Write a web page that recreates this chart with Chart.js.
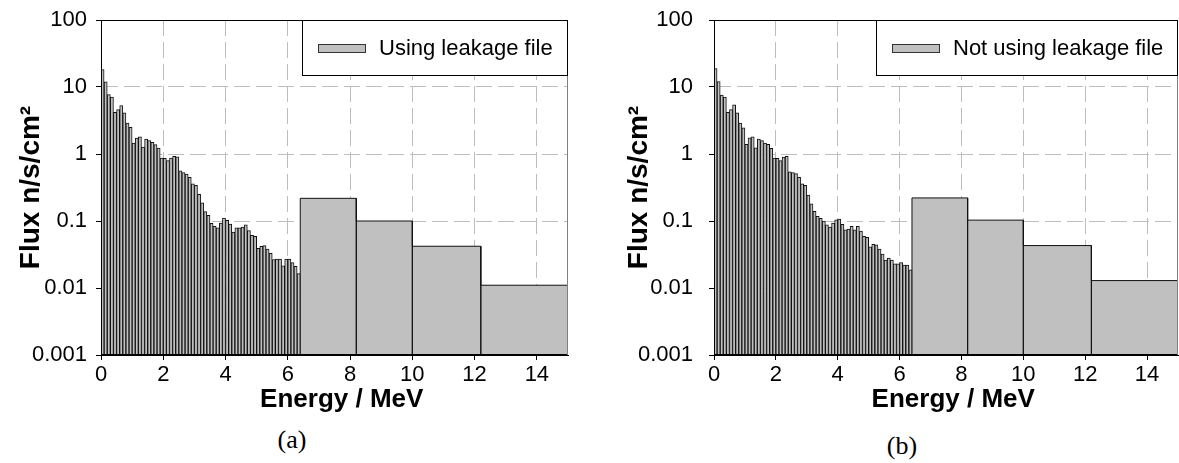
<!DOCTYPE html>
<html>
<head>
<meta charset="utf-8">
<script src="https://cdn.jsdelivr.net/npm/chart.js@4.4.1/dist/chart.umd.min.js"></script>
<style>
  html, body { margin: 0; padding: 0; background: #fff; }
  body { width: 1179px; height: 463px; position: relative; overflow: hidden; }
  .panel { position: absolute; top: 0; height: 425px; }
  #panelA { left: 0; width: 590px; }
  #panelB { left: 613px; width: 566px; }
  .caption {
    position: absolute;
    font-family: 'Liberation Serif', 'Times New Roman', serif;
    font-size: 26px;
    color: #000;
    transform: translate(-50%, -50%);
  }
</style>
</head>
<body>
<div class="panel" id="panelA"><canvas id="chartA"></canvas></div>
<div class="panel" id="panelB"><canvas id="chartB"></canvas></div>
<div class="caption" style="left:292px; top:440px">(a)</div>
<div class="caption" style="left:902px; top:446px">(b)</div>

<script>
// Energy bin edges (MeV): 64 narrow bins, then 4 wide ones
const narrowEdges = [0, 0.1, 0.2, 0.3, 0.4, 0.5, 0.6, 0.7, 0.8, 0.9, 1, 1.1, 1.2, 1.3, 1.4, 1.5, 1.6, 1.7, 1.8, 1.9,
  2, 2.1, 2.2, 2.3, 2.4, 2.5, 2.6, 2.7, 2.8, 2.9, 3, 3.1, 3.2, 3.3, 3.4, 3.5, 3.6, 3.7, 3.8, 3.9,
  4, 4.1, 4.2, 4.3, 4.4, 4.5, 4.6, 4.7, 4.8, 4.9, 5, 5.1, 5.2, 5.3, 5.4, 5.5, 5.6, 5.7, 5.8, 5.9,
  6, 6.1, 6.2, 6.3, 6.4];
const wideEdges = [6.4, 8.2, 10, 12.2, 15];

// (a) Using leakage file
const fluxNarrowA = [18.2, 11.9, 7.7, 7.1, 4.2, 4.6, 5.3, 4.1, 2.9, 2.5,
  1.46, 1.73, 1.80, 1.27, 1.67, 1.58, 1.49, 1.38, 1.23, 0.87,
  0.86, 0.80, 0.87, 0.92, 0.91, 0.56, 0.53, 0.50, 0.45, 0.36,
  0.34, 0.25, 0.186, 0.138, 0.122, 0.092, 0.083, 0.079, 0.093, 0.111,
  0.102, 0.090, 0.0685, 0.079, 0.079, 0.081, 0.088, 0.072, 0.061, 0.059,
  0.039, 0.042, 0.043, 0.038, 0.033, 0.0265, 0.027, 0.027, 0.0215, 0.027,
  0.027, 0.024, 0.021, 0.0164];
const fluxWideA = [0.218, 0.100, 0.042, 0.011];

// (b) Not using leakage file
const fluxNarrowB = [18.8, 12.0, 7.6, 7.1, 4.2, 4.6, 5.4, 4.1, 2.9, 2.45,
  1.39, 1.75, 1.80, 1.24, 1.67, 1.58, 1.46, 1.39, 1.22, 0.87,
  0.86, 0.80, 0.90, 0.92, 0.54, 0.53, 0.51, 0.45, 0.36, 0.34,
  0.244, 0.18, 0.14, 0.117, 0.11, 0.10, 0.088, 0.081, 0.093, 0.104,
  0.107, 0.089, 0.074, 0.076, 0.083, 0.074, 0.083, 0.071, 0.059, 0.057,
  0.041, 0.045, 0.044, 0.038, 0.032, 0.026, 0.028, 0.026, 0.023, 0.023,
  0.024, 0.022, 0.022, 0.0186];
const fluxWideB = [0.221, 0.103, 0.043, 0.0129];

const xTicks = [0, 2, 4, 6, 8, 10, 12, 14];
const yTicks = [0.001, 0.01, 0.1, 1, 10, 100];
const yTickLabels = ['0.001', '0.01', '0.1', '1', '10', '100'];

const BAR_FILL = '#c0c0c0';
const FONT = "'Liberation Sans', Arial, sans-serif";

Chart.defaults.font.family = FONT;
Chart.defaults.color = '#000';

function narrowPoints(values) {
  return values.map((v, i) => ({ x: (narrowEdges[i] + narrowEdges[i + 1]) / 2, y: v }));
}

// wide bins traced as one outline that drops to the axis floor at every edge
function widePoints(values) {
  const floor = yTicks[0];
  const pts = [];
  values.forEach((v, i) => {
    pts.push({ x: wideEdges[i], y: floor }, { x: wideEdges[i], y: v },
             { x: wideEdges[i + 1], y: v }, { x: wideEdges[i + 1], y: floor });
  });
  return pts;
}

// plot frame + Excel style boxed legend in the top right corner
const boxLegend = {
  id: 'boxLegend',
  afterDatasetsDraw(chart) {
    const { ctx, chartArea: a } = chart;
    ctx.save();
    ctx.lineWidth = 1;
    ctx.strokeStyle = '#000';
    ctx.beginPath();
    ctx.moveTo(a.left + 0.5, a.bottom);
    ctx.lineTo(a.left + 0.5, a.top + 0.5);
    ctx.lineTo(a.right, a.top + 0.5);
    ctx.moveTo(a.left, a.bottom - 0.5);
    ctx.lineTo(a.right, a.bottom - 0.5);
    ctx.stroke();
    ctx.strokeStyle = '#808080';
    ctx.beginPath();
    ctx.moveTo(a.right - 0.5, a.top);
    ctx.lineTo(a.right - 0.5, a.bottom);
    ctx.stroke();

    const text = chart.data.datasets[0].label;
    ctx.font = '22px ' + FONT;
    const tw = ctx.measureText(text).width;
    const h = 56, padL = 16, sw = 48, gap = 13, padR = 15;
    const w = padL + sw + gap + tw + padR;
    const x0 = Math.round(a.right - w), y0 = Math.round(a.top);
    ctx.fillStyle = '#fff';
    ctx.fillRect(x0, y0, w, h);
    ctx.strokeStyle = '#000';
    ctx.strokeRect(x0 + 0.5, y0 + 0.5, a.right - x0 - 1, h - 1);
    ctx.fillStyle = BAR_FILL;
    ctx.fillRect(x0 + padL, y0 + h / 2 - 4, sw, 9);
    ctx.strokeStyle = '#333';
    ctx.strokeRect(x0 + padL + 0.5, y0 + h / 2 - 3.5, sw - 1, 8);
    ctx.fillStyle = '#000';
    ctx.textBaseline = 'middle';
    ctx.textAlign = 'left';
    ctx.fillText(text, x0 + padL + sw + gap, y0 + h / 2 + 1);
    ctx.restore();
  }
};

function makeChart(id, label, narrow, wide, rightPad, yTitlePad, yTickPad) {
  return new Chart(document.getElementById(id), {
    type: 'bar',
    data: {
      datasets: [
        {
          type: 'bar',
          label: label,
          data: narrowPoints(narrow),
          backgroundColor: BAR_FILL,
          borderColor: '#111',
          borderWidth: 1,
          barPercentage: 1,
          categoryPercentage: 1
        },
        {
          type: 'line',
          label: label,
          data: widePoints(wide),
          backgroundColor: BAR_FILL,
          borderColor: '#111',
          borderWidth: 1,
          pointRadius: 0,
          tension: 0,
          fill: 'start'
        }
      ]
    },
    options: {
      responsive: true,
      maintainAspectRatio: false,
      animation: false,
      layout: { padding: { top: 20, right: rightPad, bottom: 0, left: 0 } },
      plugins: {
        legend: { display: false },
        tooltip: { enabled: false }
      },
      scales: {
        x: {
          type: 'linear',
          min: 0,
          max: 15,
          offset: false,
          afterBuildTicks: s => { s.ticks = xTicks.map(v => ({ value: v })); },
          afterFit: s => { s.height = 70; },
          ticks: { font: { size: 22 }, padding: 2, maxRotation: 0, autoSkip: false },
          grid: { offset: false, color: '#bdbdbd', lineWidth: 1, tickLength: 5, tickColor: '#000' },
          border: { color: '#000', dash: [16, 6] },
          title: {
            display: true,
            text: '  Energy / MeV',
            font: { size: 26, weight: 'bold' },
            padding: { top: 0, bottom: 10 }
          }
        },
        y: {
          type: 'logarithmic',
          min: 0.001,
          max: 100,
          afterBuildTicks: s => { s.ticks = yTicks.map(v => ({ value: v })); },
          // fixed axis width; label overhang must not push the plot top down
          afterFit: s => { s.width = 101; s.paddingTop = 0; s.paddingBottom = 0; },
          ticks: { font: { size: 22 }, padding: yTickPad, callback: (v, i) => yTickLabels[i] },
          grid: { color: '#bdbdbd', lineWidth: 1, tickLength: 5, tickColor: '#000' },
          border: { color: '#000', dash: [16, 6] },
          title: {
            display: true,
            text: 'Flux n/s/cm\u00B2',
            font: { size: 28, weight: 'bold' },
            padding: { top: yTitlePad, bottom: 0 }
          }
        }
      }
    },
    plugins: [boxLegend]
  });
}

makeChart('chartA', 'Using leakage file', fluxNarrowA, fluxWideA, 22, 14, 9);
makeChart('chartB', 'Not using leakage file', fluxNarrowB, fluxWideB, 1, 9, 16);
</script>
</body>
</html>
